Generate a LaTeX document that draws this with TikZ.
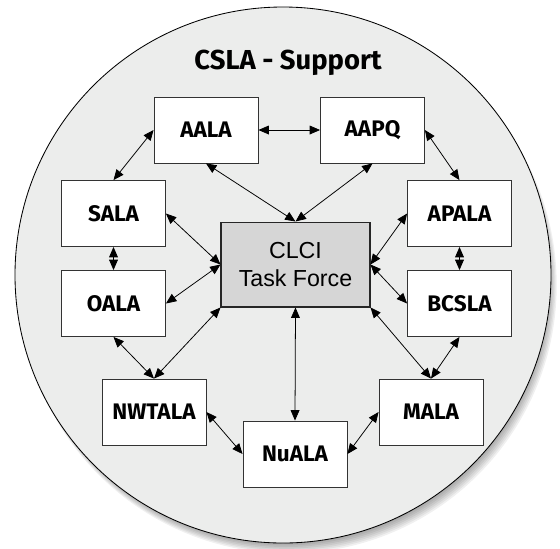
\documentclass[tikz,border=0pt]{standalone}
\usepackage{fontspec}
\setmainfont{Liberation Sans}
\setsansfont{Fira Sans}
\usetikzlibrary{arrows.meta}

\definecolor{discfill}{HTML}{ECEDEC}
\definecolor{corefill}{HTML}{D6D6D6}
\definecolor{boxline}{HTML}{333333}

\tikzset{
  lab/.style={rectangle, draw=boxline, line width=0.6pt, fill=white,
    minimum width=2.6cm, minimum height=1.65cm,
    font=\sffamily\bfseries\fontsize{16}{18}\selectfont},
  link/.style={{Triangle[length=2.6mm,width=2.2mm]}-{Triangle[length=2.6mm,width=2.2mm]}, line width=0.55pt}
}

\begin{document}
\begin{tikzpicture}[x=0.025cm, y=-0.025cm]
  \useasboundingbox (0,0) rectangle (560,548);
  % Shadow and disc
  \foreach \s in {1,...,9}
    \fill[black, opacity=0.06] (283+0.6*\s,277+0.9*\s) circle[radius=262+0.7*\s];
  \draw[fill=discfill, line width=0.6pt] (283,275) circle[radius=268];
  % Header
  \node (title) [anchor=base, font=\sffamily\bfseries\fontsize{19.5}{23}\selectfont] at (288,69) {CSLA - Support};
  % Nodes
  \node (CLCI) [rectangle, draw=black!85, line width=1.4pt, fill=corefill, minimum width=3.7cm, minimum height=2.1cm,
    align=center, font=\fontsize{16.5}{20.6}\selectfont] at (295.5,264.5) {CLCI\\Task Force};
  \node (AALA) [lab] at (206,130) {AALA};
  \node (AAPQ) [lab] at (372.5,130) {AAPQ};
  \node (SALA) [lab] at (113.5,213.5) {SALA};
  \node (OALA) [lab] at (113.5,303.5) {OALA};
  \node (APALA) [lab] at (459.5,213.5) {APALA};
  \node (BCSLA) [lab] at (459.5,303.5) {BCSLA};
  \node (NWTALA) [lab] at (154,412) {NWTALA};
  \node (NuALA) [lab] at (295,454) {NuALA};
  \node (MALA) [lab] at (431,412) {MALA};
  % Arrows
  \draw[link] (AALA) -- (AAPQ);
  \draw[link] (AALA.west) -- (SALA.north);
  \draw[link] (AAPQ.east) -- (APALA.north);
  \draw[link] (SALA) -- (OALA);
  \draw[link] (APALA) -- (BCSLA);
  \draw[link] (AALA.south) -- (CLCI.north);
  \draw[link] (AAPQ.south) -- (CLCI.north);
  \draw[link] (SALA.east) -- (CLCI.west);
  \draw[link] (OALA.east) -- (CLCI.west);
  \draw[link] (APALA.west) -- (CLCI.east);
  \draw[link] (BCSLA.west) -- (CLCI.east);
  \draw[link] (OALA.south) -- (NWTALA.north);
  \draw[link] (CLCI.south west) -- (NWTALA.north);
  \draw[link] (BCSLA.south) -- (MALA.north);
  \draw[link] (CLCI.south east) -- (MALA.north);
  \draw[link] (CLCI.south) -- (NuALA.north);
  \draw[link] (NWTALA.east) -- (NuALA.west);
  \draw[link] (MALA.west) -- (NuALA.east);
\end{tikzpicture}
\end{document}
